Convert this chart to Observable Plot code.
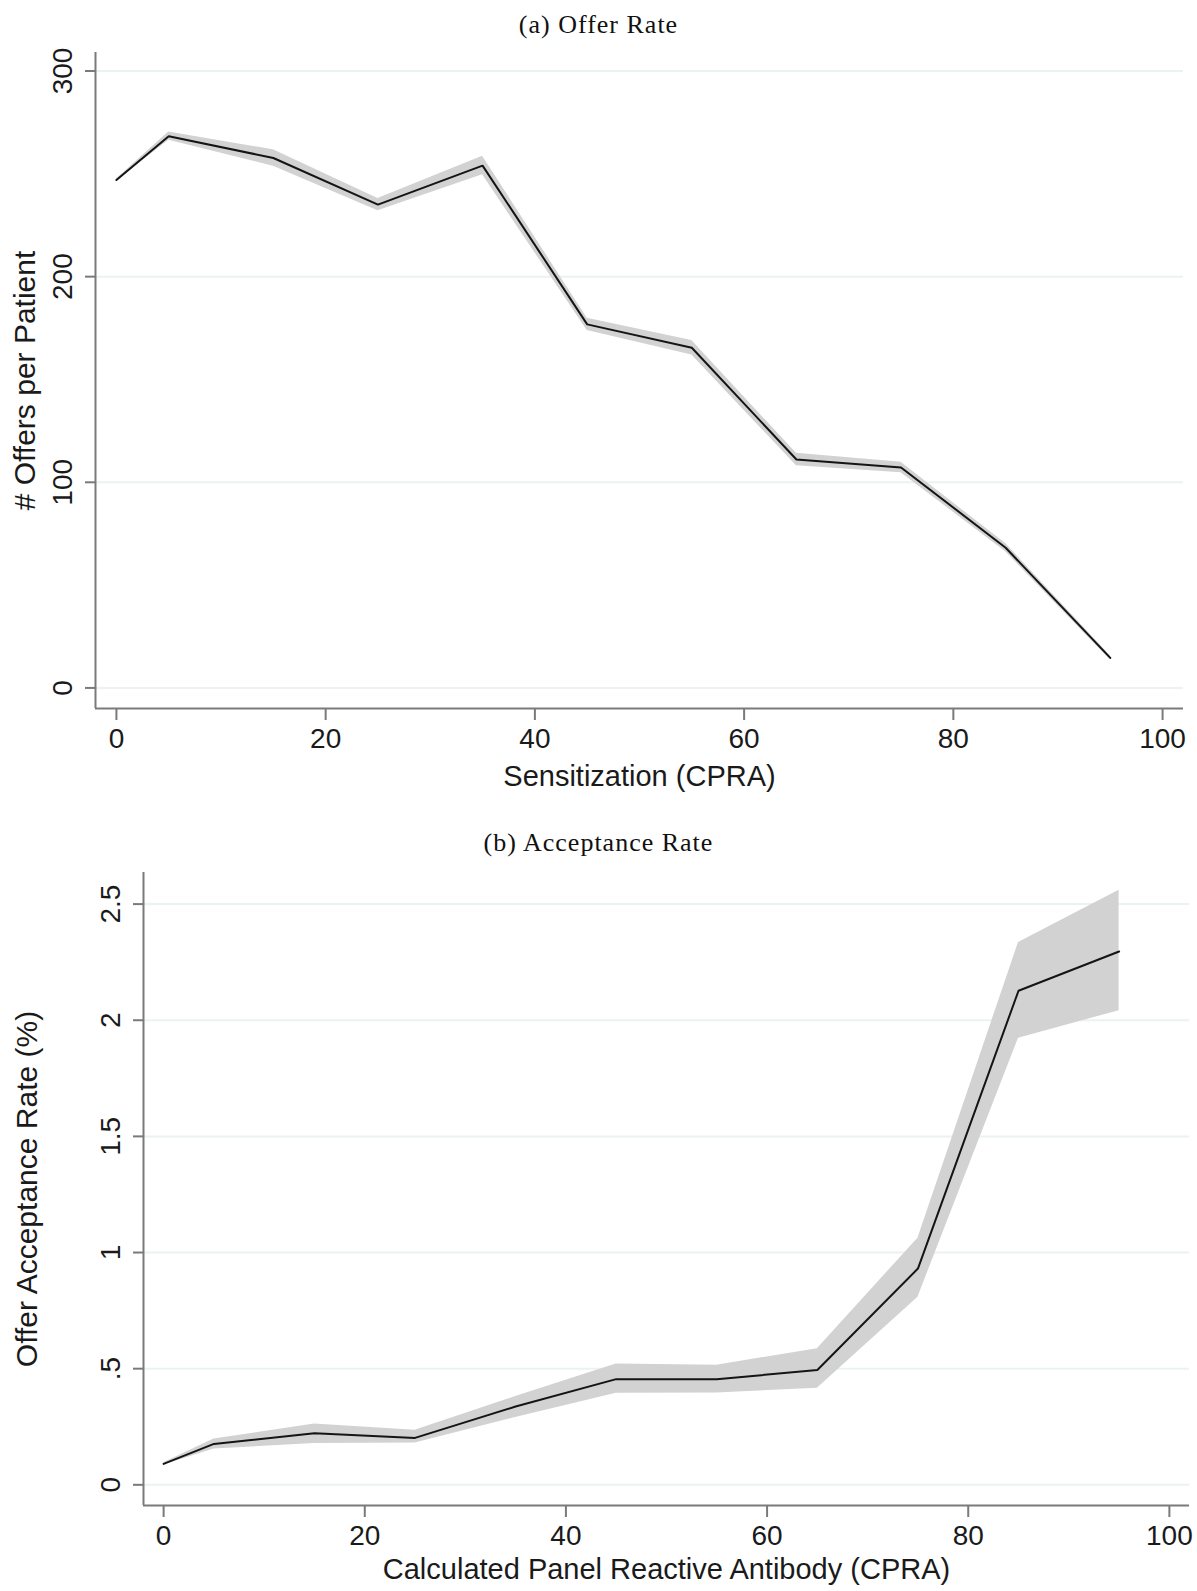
<!DOCTYPE html>
<html><head><meta charset="utf-8">
<script src="https://cdn.jsdelivr.net/npm/d3@7"></script>
<script src="https://cdn.jsdelivr.net/npm/@observablehq/plot@0.6"></script>
<style>
body{margin:0;background:#fff;}
#wrap{position:relative;width:1197px;height:1591px;overflow:hidden;background:#fff;}
.title{position:absolute;left:0;width:1197px;text-align:center;font-family:"Liberation Serif","Times New Roman",serif;font-size:26px;letter-spacing:1px;color:#111;line-height:32px;pointer-events:none;}
.panel{position:absolute;left:0;}
</style></head><body>
<div id="wrap">
<div class="panel" id="pa" style="top:0px"></div>
<div class="panel" id="pb" style="top:800px"></div>
<div class="title" style="top:9px">(a) Offer Rate</div>
<div class="title" style="top:827px">(b) Acceptance Rate</div>
</div>
<script>
// ---- data ----
const cpra = [0, 5, 15, 25, 35, 45, 55, 65, 75, 85, 95];
const offers   = [247.0, 268.3, 257.7, 235.0, 254.0, 176.8, 165.4, 111.1, 107.2, 68.2, 14.6];
const offersLo = [246.5, 266.3, 253.7, 232.0, 249.5, 173.8, 161.9, 108.1, 104.7, 66.2, 13.6];
const offersHi = [247.5, 270.3, 261.7, 238.0, 258.5, 179.8, 168.9, 114.1, 109.7, 70.2, 15.6];
const accept   = [0.090, 0.176, 0.222, 0.202, 0.337, 0.455, 0.455, 0.494, 0.931, 2.127, 2.296];
const acceptLo = [0.085, 0.154, 0.178, 0.180, 0.290, 0.394, 0.395, 0.416, 0.808, 1.923, 2.041];
const acceptHi = [0.095, 0.197, 0.262, 0.235, 0.380, 0.520, 0.515, 0.586, 1.062, 2.335, 2.560];

const xTicks = [0, 20, 40, 60, 80, 100];
const yTicksA = [0, 100, 200, 300];
const yTicksB = [0, 0.5, 1, 1.5, 2, 2.5];
const yTickLabelsB = ["0", ".5", "1", "1.5", "2", "2.5"];

const xDomain = [-2, 102];
const yDomainA = [-10, 309];
const yDomainB = [-0.089, 2.636];

const xLabelA = "Sensitization (CPRA)";
const yLabelA = "# Offers per Patient";
const xLabelB = "Calculated Panel Reactive Antibody (CPRA)";
const yLabelB = "Offer Acceptance Rate (%)";

// ---- styles ----
const axisColor = "#7a7a7a";
const gridColor = "#ebf2f2";
const bandColor = "#d2d2d2";
const lineColor = "#141414";
const textColor = "#1a1a1a";
const font = "'Liberation Sans', Arial, Helvetica, sans-serif";

function panel({data, yDomain, yTicks, yFormat, xLabel, yLabel, height, marginTop, marginBottom, marginLeft, marginRight, yLabelDx, xLabelDy}) {
  return Plot.plot({
    width: 1197,
    height,
    marginTop, marginBottom, marginLeft, marginRight,
    style: {fontFamily: font, background: "transparent", color: textColor, overflow: "visible"},
    x: {domain: xDomain, nice: false},
    y: {domain: yDomain, nice: false},
    marks: [
      Plot.ruleY(yTicks, {stroke: gridColor, strokeWidth: 2}),
      Plot.areaY(data, {x: "x", y1: "lo", y2: "hi", fill: bandColor}),
      Plot.line(data, {x: "x", y: "y", stroke: lineColor, strokeWidth: 2, strokeLinejoin: "miter"}),
      Plot.ruleX([xDomain[0]], {stroke: axisColor, strokeWidth: 2}),
      Plot.ruleY([yDomain[0]], {stroke: axisColor, strokeWidth: 2}),
      Plot.axisX(xTicks, {anchor: "bottom", tickSize: 12, tickPadding: 8, fontSize: 28, stroke: axisColor, strokeWidth: 2, fill: textColor, label: null}),
      Plot.axisY(yTicks, {anchor: "left", tickSize: 10, tickPadding: 14, tickRotate: -90, fontSize: 28, stroke: axisColor, strokeWidth: 2, fill: textColor, label: null, tickFormat: yFormat}),
      Plot.text([xLabel], {text: d => d, frameAnchor: "bottom", textAnchor: "middle", dy: xLabelDy, lineAnchor: "middle", fontSize: 29, fill: textColor}),
      Plot.text([yLabel], {text: d => d, frameAnchor: "left", textAnchor: "middle", dx: yLabelDx, rotate: -90, lineAnchor: "middle", fontSize: 30, fill: textColor})
    ]
  });
}

const dataA = cpra.map((c, i) => ({x: c, y: offers[i], lo: offersLo[i], hi: offersHi[i]}));
const dataB = cpra.map((c, i) => ({x: c, y: accept[i], lo: acceptLo[i], hi: acceptHi[i]}));

document.getElementById("pa").append(panel({
  data: dataA, yDomain: yDomainA, yTicks: yTicksA, yFormat: d => String(d),
  xLabel: xLabelA, yLabel: yLabelA,
  height: 800, marginTop: 52, marginBottom: 92, marginLeft: 95, marginRight: 14,
  yLabelDx: -70, xLabelDy: 68
}));

document.getElementById("pb").append(panel({
  data: dataB, yDomain: yDomainB, yTicks: yTicksB, yFormat: d => yTickLabelsB[yTicksB.indexOf(d)],
  xLabel: xLabelB, yLabel: yLabelB,
  height: 791, marginTop: 72, marginBottom: 86, marginLeft: 143, marginRight: 8,
  yLabelDx: -116, xLabelDy: 64
}));
</script>
</body></html>
